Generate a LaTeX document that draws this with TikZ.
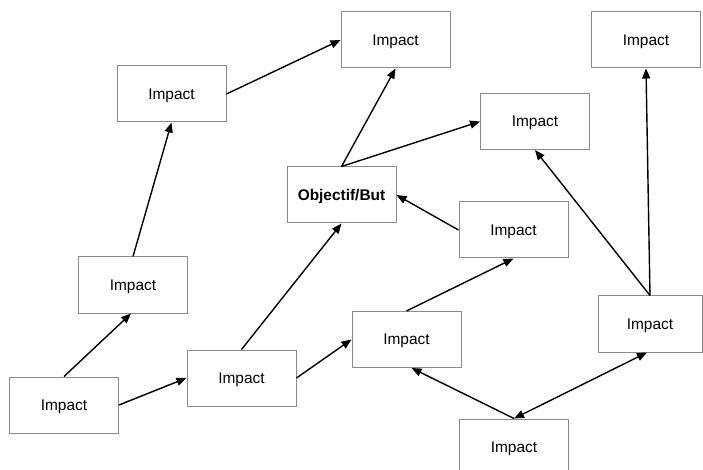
\documentclass[tikz,border=0pt]{standalone}
\usepackage{fontspec}
\setmainfont{Liberation Sans}
\usetikzlibrary{arrows.meta}
\begin{document}
\begin{tikzpicture}[x=1bp,y=-1bp,
  box/.style={draw=black!45,line width=1bp,minimum width=109bp,minimum height=56bp,inner sep=0pt,text depth=0pt,font=\fontsize{15.5}{18}\selectfont,fill=white},
  arr/.style={line width=1.4bp,-{Triangle[length=10bp,width=8bp]}},
  darr/.style={line width=1.4bp,{Triangle[length=10bp,width=8bp]}-{Triangle[length=10bp,width=8bp]}}]
\useasboundingbox (0,0) rectangle (703,470);
\begin{scope}
\clip (0,0) rectangle (703,470);
\node[box] (n1) at (395.5,40) {Impact};
\node[box] (n2) at (646,40) {Impact};
\node[box] (n3) at (171.5,94) {Impact};
\node[box] (n4) at (535,121.5) {Impact};
\node[box] (n5) at (341.5,195) {\textbf{Objectif/But}};
\node[box] (n6) at (513.5,230) {Impact};
\node[box] (n7) at (133,285) {Impact};
\node[box] (n8) at (406.5,339.5) {Impact};
\node[box,minimum width=104bp] (n9) at (650,324) {Impact};
\node[box] (n10) at (64,405) {Impact};
\node[box] (n11) at (241.5,378) {Impact};
\node[box] (n12) at (514,447) {Impact};
\end{scope}
\draw[arr] (n10.north) -- ([xshift=-2bp]n7.south);
\draw[arr] (n10.east) -- (n11.west);
\draw[arr] (n7.north) -- (n3.south);
\draw[arr] (n3.east) -- (n1.west);
\draw[arr] (n11.north) -- (n5.south);
\draw[arr] (n11.east) -- (n8.west);
\draw[arr] (n5.north) -- (n1.south);
\draw[arr] (n5.north) -- (n4.west);
\draw[arr] (n6.west) -- (n5.east);
\draw[arr] (n8.north) -- (n6.south);
\draw[arr] (n9.north) -- (n2.south);
\draw[arr] (n9.north) -- (n4.south);
\draw[arr] (n12.north) -- ([xshift=5bp]n8.south);
\draw[darr] (n12.north) -- ([xshift=-3bp]n9.south);
\end{tikzpicture}
\end{document}
